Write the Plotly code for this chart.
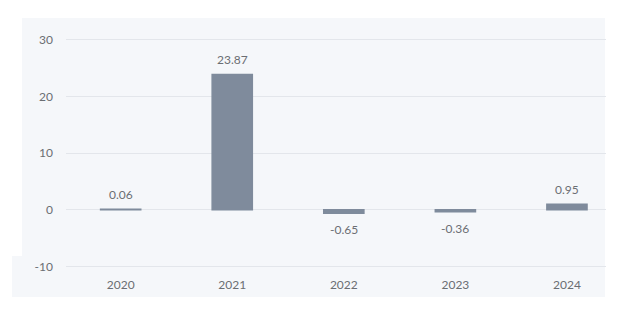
import plotly.graph_objects as go

years = ["2020", "2021", "2022", "2023", "2024"]
values = [0.06, 23.87, -0.65, -0.36, 0.95]
labels = ["0.06", "23.87", "-0.65", "-0.36", "0.95"]
y_ticks = [-10, 0, 10, 20, 30]
y_tick_text = ["-10", "0", "10", "20", "30"]

TXT = "#6b6e73"
FONT = "Lato, 'Open Sans', sans-serif"
BAR = "#7f8b9c"

fig = go.Figure(go.Bar(
    x=years, y=values,
    marker=dict(color=BAR, line=dict(color=BAR, width=1.5)),
    width=0.36,
))

annotations = []
for i, (v, lab) in enumerate(zip(values, labels)):
    annotations.append(dict(
        x=i, y=v, xref="x", yref="y", text=lab, showarrow=False,
        yanchor="bottom" if v >= 0 else "top",
        yshift=5 if v >= 0 else -7,
        font=dict(color=TXT, size=12, family=FONT),
    ))

W, H = 626, 336
L, R, T, B = 66, 20, 38, 68
pw, ph = W - L - R, H - T - B

def px(x):
    return (x - L) / pw

def py(y):
    return (H - B - y) / ph

fig.update_layout(
    width=W, height=H,
    margin=dict(l=L, r=R, t=T, b=B),
    paper_bgcolor="white", plot_bgcolor="rgba(0,0,0,0)",
    showlegend=False,
    font=dict(family=FONT, color=TXT, size=12),
    annotations=annotations,
    shapes=[
        dict(type="rect", xref="paper", yref="paper", x0=px(22), x1=px(605), y0=py(297), y1=py(18),
             fillcolor="#f5f7fa", line=dict(width=0), layer="below"),
        dict(type="rect", xref="paper", yref="paper", x0=px(12), x1=px(22), y0=py(297), y1=py(256),
             fillcolor="#f5f7fa", line=dict(width=0), layer="below"),
    ],
    xaxis=dict(type="category", range=[-0.49, 4.35], showgrid=False, zeroline=False, showline=False,
               ticks="", ticklabelstandoff=8, tickfont=dict(size=12, color=TXT)),
    yaxis=dict(range=[-10.3, 30.3], tickvals=y_ticks, ticktext=y_tick_text,
               showgrid=True, gridcolor="#e3e6eb", gridwidth=1,
               zeroline=True, zerolinecolor="#e3e6eb", zerolinewidth=1, showline=False,
               ticks="", ticklabelstandoff=12, tickfont=dict(size=12, color=TXT)),
)

fig.write_html("out.html")
